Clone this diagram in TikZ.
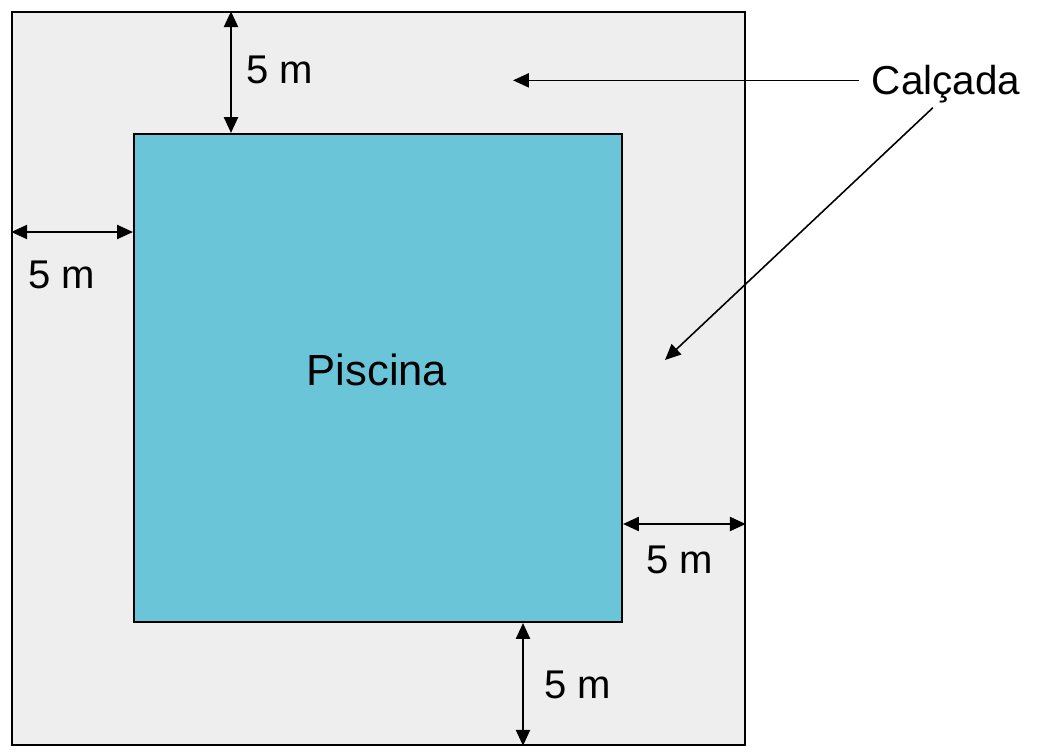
\documentclass[tikz,border=0pt]{standalone}
\usepackage{fontspec}
\setmainfont{Liberation Sans}
\usetikzlibrary{arrows.meta,positioning}
\definecolor{agua}{HTML}{6BC5D9}
\definecolor{piso}{HTML}{EEEEEE}

\begin{document}
\begin{tikzpicture}[
    seta/.style={-{Triangle[length=9pt,width=8pt]}, line width=0.9pt},
    cota/.style={{Triangle[length=9pt,width=8pt]}-{Triangle[length=9pt,width=8pt]}, line width=1.1pt},
    rotulo/.style={anchor=base, inner sep=0pt, font=\fontsize{22.8}{27}\selectfont}
    ]
    \useasboundingbox (0,0) rectangle (20.9,-15.1);

    \node[draw, line width=0.8pt, fill=piso, minimum size=14.66cm, inner sep=0pt] (calcada) at (7.57,-7.57) {};
    \node[draw, line width=1.2pt, fill=agua, minimum size=9.76cm, inner sep=0pt] (piscina) at (7.56,-7.56) {};
    \node[rotulo, font=\fontsize{24.8}{29}\selectfont] (nome) at (7.54,-7.7) {Piscina};

    % cotas de 5 m
    \draw[cota] (calcada.north -| 4.62,0) -- (piscina.north -| 4.62,0);
    \draw[cota] (calcada.west |- 0,-4.64) -- (piscina.west |- 0,-4.64);
    \draw[cota] (piscina.east |- 0,-10.48) -- (calcada.east |- 0,-10.48);
    \draw[cota] (piscina.south -| 10.46,0) -- (calcada.south -| 10.46,0);

    \node[rotulo] (m_n) at (5.6,-1.68)   {5 m};
    \node[rotulo] (m_w) at (1.24,-5.76)  {5 m};
    \node[rotulo] (m_e) at (13.6,-11.46) {5 m};
    \node[rotulo] (m_s) at (11.56,-13.96) {5 m};

    % legenda
    \node[rotulo, text depth=0pt, font=\fontsize{23}{27}\selectfont] (legenda) at (18.92,-1.9) {Calçada};
    \coordinate (alvo1) at (10.26,-1.6);
    \coordinate (alvo2) at (13.3,-7.2);
    \draw[seta, shorten <=0.26cm] (legenda.west) -- (legenda.west -| alvo1);
    \draw[seta, shorten <=0.36cm] (legenda.south) -- (alvo2);
\end{tikzpicture}
\end{document}
